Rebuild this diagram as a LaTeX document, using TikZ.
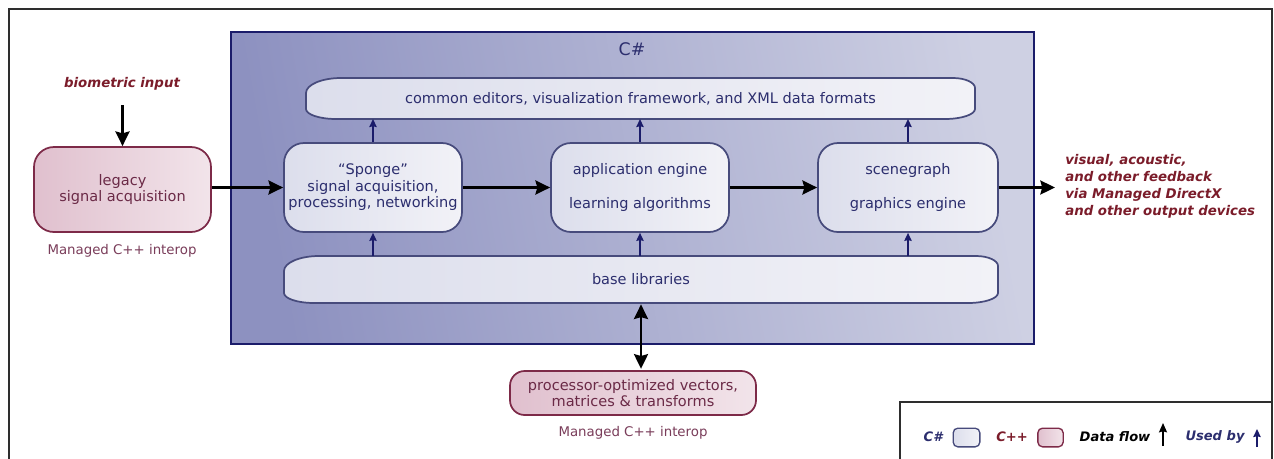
\documentclass[tikz,border=0pt]{standalone}
\usepackage{fontspec}
\setmainfont{DejaVu Sans}
\usetikzlibrary{arrows.meta,calc}
\definecolor{navy}{HTML}{2C2E6E}
\definecolor{mainborder}{HTML}{1B1C6A}
\definecolor{mainleft}{HTML}{8D91C0}
\definecolor{mainright}{HTML}{CED0E3}
\definecolor{csleft}{HTML}{DCDEEC}
\definecolor{csright}{HTML}{F2F2F7}
\definecolor{csborder}{HTML}{474B7C}
\definecolor{ppleft}{HTML}{E0C0CE}
\definecolor{ppright}{HTML}{F2E4EA}
\definecolor{ppborder}{HTML}{7D2A48}
\definecolor{pptext}{HTML}{6B2A47}
\definecolor{interop}{HTML}{7A3D5A}
\definecolor{darkred}{HTML}{7B1C2A}
\definecolor{framegray}{HTML}{2E2E2E}
% lens-like bar: style, x1, y1, x2, y2
\newcommand\lensshape[5]{%
 \path[#1] ({#2},{#3+15}) .. controls ({#2},{#3+6.7}) and ({#2+15.7},{#3}) .. ({#2+35},{#3})
   -- ({#4-22},{#3}) .. controls ({#4-9.9},{#3}) and ({#4},{#3+4.5}) .. ({#4},{#3+10})
   -- ({#4},{#5-10}) .. controls ({#4},{#5-4.5}) and ({#4-13.5},{#5}) .. ({#4-30},{#5})
   -- ({#2+30},{#5}) .. controls ({#2+13.5},{#5}) and ({#2},{#5-4.5}) .. ({#2},{#5-10}) -- cycle;}
\tikzset{
  txt/.style={font=\fontsize{10.9}{12.4}\selectfont, text=navy, align=center, inner sep=0pt},
  csbox/.style={draw=csborder, line width=1.3pt, rounded corners=15pt, left color=csleft, right color=csright,
     font=\fontsize{10.9}{12.4}\selectfont, text=navy, align=center, minimum height=66.75pt},
  ppbox/.style={draw=ppborder, line width=1.3pt, left color=ppleft, right color=ppright,
     font=\fontsize{10.9}{12.2}\selectfont, text=pptext, align=center},
  interoptxt/.style={font=\fontsize{10}{12}\selectfont, text=interop, inner sep=0pt},
  redital/.style={font=\fontsize{10}{12.75}\selectfont\bfseries\itshape, text=darkred, inner sep=0pt},
  flow/.style={line width=1.8pt, draw=black, -{Stealth[inset=1.4pt, length=11pt, width=10.5pt]}},
  flowboth/.style={line width=1.8pt, draw=black, {Stealth[inset=1.4pt, length=11pt, width=10.5pt]}-{Stealth[inset=1.4pt, length=11pt, width=10.5pt]}},
  usedby/.style={line width=1.1pt, draw=mainborder, -{Stealth[inset=0.6pt, length=6pt, width=5.5pt]}},
  legendtxt/.style={font=\fontsize{9.8}{12}\selectfont\bfseries\itshape, inner sep=0pt},
}
\begin{document}
\begin{tikzpicture}[x=0.75pt,y=-0.75pt]
\useasboundingbox (0,0) rectangle (1274,458);
\clip (0,0) rectangle (1274,458);
\fill[white] (0,0) rectangle (1274,458);
% outer frame
\draw[framegray, line width=1.6pt] (9,470) -- (9,9) -- (1272,9) -- (1272,470);
% main C# box
\shade[left color=mainleft, right color=mainright, shading angle=100] (231,32) rectangle (1034,344);
\draw[mainborder, line width=1.5pt] (231,32) rectangle (1034,344);
\node[txt, font=\fontsize{13}{15}\selectfont] (cslabel) at (632,49) {C\#};
% common bar
\lensshape{draw=csborder, line width=1.3pt, left color=csleft, right color=csright}{306}{78}{975}{119}
\node[txt] (common) at (640.5,98.5) {common editors, visualization framework, and XML data formats};
% base bar
\lensshape{draw=csborder, line width=1.3pt, left color=csleft, right color=csright}{284}{256}{998}{303}
\node[txt] (base) at (641,279.5) {base libraries};
% component boxes
\node[csbox, minimum width=133.5pt] (sponge) at (373,187.5) {``Sponge''\\signal acquisition,\\processing, networking};
\node[csbox, minimum width=133.5pt] (app) at (640,187.5) {application engine\\[13pt]learning algorithms};
\node[csbox, minimum width=135pt] (scene) at (908,187.5) {scenegraph\\[13pt]graphics engine};
% legacy box
\node[ppbox, rounded corners=15pt, minimum width=132.75pt, minimum height=63.75pt] (legacy) at (122.5,189.5) {legacy\\signal acquisition};
\node[interoptxt] (interop1) at (122,251) {Managed C++ interop};
\node[redital] (bio) at (122,84) {biometric input};
% processor box
\node[ppbox, rounded corners=11pt, minimum width=184.5pt, minimum height=33pt] (proc) at (633,393) {processor-optimized vectors,\\matrices \& transforms};
\node[interoptxt] (interop2) at (633,433) {Managed C++ interop};
% output text
\node[redital, anchor=west, align=left] (out) at (1065,186.5) {visual, acoustic,\\and other feedback\\via Managed DirectX\\and other output devices};
% data flow arrows
\draw[flow, shorten <=11pt] (legacy.north |- bio.south) -- (legacy.north);
\draw[flow] (legacy.east |- sponge.west) -- (sponge.west);
\draw[flow] (sponge.east) -- (app.west);
\draw[flow] (app.east) -- (scene.west);
\draw[flow, shorten >=7.5pt] (scene.east) -- (scene.east -| out.west);
\draw[flowboth, shorten <=1pt, shorten >=1pt] (base.south |- 640,303) -- (base.south |- proc.north);
% used-by arrows
\draw[usedby] (sponge.north) -- (sponge.north |- 0,119);
\draw[usedby] (app.north) -- (app.north |- 0,119);
\draw[usedby] (scene.north) -- (scene.north |- 0,119);
\draw[usedby] (sponge.south |- 0,256) -- (sponge.south);
\draw[usedby] (app.south |- 0,256) -- (app.south);
\draw[usedby] (scene.south |- 0,256) -- (scene.south);
% legend
\draw[framegray, line width=1.3pt] (900,470) -- (900,402) -- (1272,402);
\node[legendtxt, text=navy] (lcs) at (933,437) {C\#};
\node[draw=csborder, line width=1pt, left color=csleft, right color=csright, rounded corners=3.5pt, minimum width=20pt, minimum height=14pt, inner sep=0pt] (lcsbox) at (966.5,437.5) {};
\node[legendtxt, text=darkred] (lcpp) at (1012,437) {C++};
\node[draw=ppborder, line width=1pt, left color=ppleft, right color=ppright, rounded corners=3.5pt, minimum width=19pt, minimum height=14pt, inner sep=0pt] (lppbox) at (1050.5,437.5) {};
\node[legendtxt, text=black] (lflow) at (1115,437) {Data flow};
\coordinate (lfa) at (1163,446);
\coordinate (lfb) at (1163,423);
\draw[line width=1.2pt, -{Stealth[inset=0.8pt, length=7pt, width=6pt]}] (lfa) -- (lfb);
\node[legendtxt, text=navy] (lused) at (1215,437) {Used by};
\coordinate (lua) at (1257,447);
\coordinate (lub) at (1257,429);
\draw[usedby] (lua) -- (lub);
\end{tikzpicture}
\end{document}
